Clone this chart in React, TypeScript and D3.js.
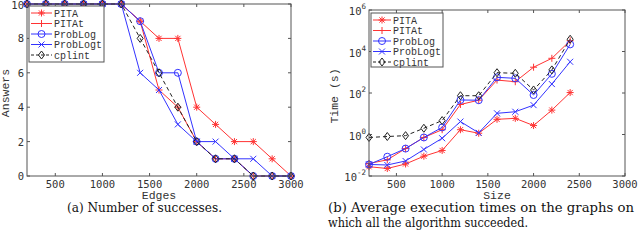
import React, { useRef, useEffect } from 'react';
import * as d3 from 'd3';

// panel (a): answers per number of edges
const edges = [200, 400, 600, 800, 1000, 1200, 1400, 1600, 1800, 2000, 2200, 2400, 2600, 2800, 3000];
const answersPITA = [10, 10, 10, 10, 10, 10, 9, 8, 8, 4, 3, 2, 2, 1, 0];
const answersPITAt = [10, 10, 10, 10, 10, 10, 9, 5, 4, 2, 1, 1, 0, 0, 0];
const answersProbLog = [10, 10, 10, 10, 10, 10, 9, 6, 6, 2, 1, 1, 0, 0, 0];
const answersProbLogt = [10, 10, 10, 10, 10, 10, 6, 5, 3, 2, 2, 1, 1, 0, 0];
const answersCplint = [10, 10, 10, 10, 10, 10, 8, 6, 4, 2, 1, 1, 0, 0, 0];

// panel (b): average time per size
const sizes = [200, 400, 600, 800, 1000, 1200, 1400, 1600, 1800, 2000, 2200, 2400];
const timePITA = [0.028, 0.023, 0.038, 0.09, 0.17, 1.7, 1.15, 5.4, 6, 2.7, 15, 105];
const timePITAt = [0.04, 0.06, 0.21, 0.72, 1.7, 28, 45, 420, 350, 1750, 4700, 33000];
const timeProbLog = [0.036, 0.085, 0.21, 0.72, 2.2, 46, 45, 570, 510, 80, 840, 22000];
const timeProbLogt = [0.036, 0.034, 0.053, 0.19, 0.66, 4.2, 1.2, 10.5, 12.5, 26, 270, 3200];
const timeCplint = [0.72, 0.8, 0.88, 2.0, 4.7, 74, 74, 950, 890, 140, 1300, 39000];

const seriesNames = ['PITA', 'PITAt', 'ProbLog', 'ProbLogt', 'cplint'];
const xTicks = [500, 1000, 1500, 2000, 2500, 3000];
const answerTicks = [0, 2, 4, 6, 8, 10];
const timeTicks = [1e-2, 1, 1e2, 1e4, 1e6];

const styles = [
  { color: '#ff3333', marker: '*', dash: null },
  { color: '#ff3333', marker: '+', dash: null },
  { color: '#3333ff', marker: 'o', dash: null },
  { color: '#3333ff', marker: 'x', dash: null },
  { color: '#222222', marker: 'd', dash: '4,3' },
];

const AXIS = '#555';
const TEXT = '#333';
const MONO = '"DejaVu Sans Mono", monospace';
const COURIER = '"Liberation Mono", monospace';

function marker(g, type, x, y, color) {
  const s = 3.5;
  const line = (x1, y1, x2, y2) =>
    g.append('line').attr('x1', x1).attr('y1', y1).attr('x2', x2).attr('y2', y2)
      .attr('stroke', color).attr('stroke-width', 1);
  if (type === '*' || type === '+') {
    line(x - s, y, x + s, y);
    line(x, y - s, x, y + s);
  }
  if (type === '*' || type === 'x') {
    const d = type === '*' ? 2.6 : 3;
    line(x - d, y - d, x + d, y + d);
    line(x - d, y + d, x + d, y - d);
  }
  if (type === 'o') {
    g.append('circle').attr('cx', x).attr('cy', y).attr('r', 3.5)
      .attr('fill', 'none').attr('stroke', color).attr('stroke-width', 1);
  }
  if (type === 'd') {
    g.append('path')
      .attr('d', `M${x},${y - 4}L${x + 3},${y}L${x},${y + 4}L${x - 3},${y}Z`)
      .attr('fill', 'none').attr('stroke', color).attr('stroke-width', 1);
  }
}

function panel(svg, o) {
  const g = svg.append('g');
  const [x0, x1] = o.x.range();
  const [y0, y1] = o.y.range();

  // series
  o.data.forEach((vals, i) => {
    const st = styles[i];
    const pts = vals.map((v, j) => [o.x(o.xs[j]), o.y(v)]);
    g.append('path')
      .attr('d', d3.line()(pts))
      .attr('fill', 'none')
      .attr('stroke', st.color)
      .attr('stroke-width', 1)
      .attr('stroke-dasharray', st.dash);
    pts.forEach((p) => marker(g, st.marker, p[0], p[1], st.color));
  });

  // box
  g.append('rect')
    .attr('x', x0).attr('y', y1).attr('width', x1 - x0).attr('height', y0 - y1)
    .attr('fill', 'none').attr('stroke', AXIS).attr('stroke-width', 1);

  // x ticks, inward on bottom and top
  o.xTicks.forEach((t) => {
    const x = o.x(t);
    g.append('line').attr('x1', x).attr('x2', x).attr('y1', y0).attr('y2', y0 - 3).attr('stroke', AXIS);
    g.append('line').attr('x1', x).attr('x2', x).attr('y1', y1).attr('y2', y1 + 3).attr('stroke', AXIS);
    g.append('text').attr('x', x).attr('y', y0 + 12)
      .attr('text-anchor', 'middle').attr('font-family', MONO).attr('font-size', 10.5)
      .attr('fill', TEXT).text(t);
  });

  // y ticks
  o.yTicks.forEach((t) => {
    const y = o.y(t);
    g.append('line').attr('x1', x0).attr('x2', x0 + 3).attr('y1', y).attr('y2', y).attr('stroke', AXIS);
    g.append('line').attr('x1', x1).attr('x2', x1 - 3).attr('y1', y).attr('y2', y).attr('stroke', AXIS);
    const txt = g.append('text').attr('x', x0 - 3).attr('y', Math.max(y + 4, 8.5))
      .attr('text-anchor', 'end').attr('font-family', MONO).attr('font-size', 10.5).attr('fill', TEXT);
    if (o.log) {
      txt.attr('y', y + 5);
      txt.append('tspan').text('10');
      txt.append('tspan').attr('dy', -6).attr('font-size', 7.5).text(Math.round(Math.log10(t)));
    } else {
      txt.text(t);
    }
  });

  // axis labels
  g.append('text').attr('x', (x0 + x1) / 2).attr('y', 199)
    .attr('text-anchor', 'middle').attr('font-family', COURIER).attr('font-size', 11.5)
    .attr('fill', TEXT).text(o.xLabel);
  g.append('text')
    .attr('transform', `translate(${o.yLabelX},${(y0 + y1) / 2 + 3}) rotate(-90)`)
    .attr('text-anchor', 'middle').attr('font-family', COURIER).attr('font-size', 11.5)
    .attr('fill', TEXT).text(o.yLabel);

  // legend
  const L = o.legend;
  g.append('rect').attr('x', L.x).attr('y', L.y).attr('width', L.w).attr('height', L.h)
    .attr('fill', 'white').attr('stroke', AXIS).attr('stroke-width', 1);
  seriesNames.forEach((name, i) => {
    const st = styles[i];
    const yy = L.y + 7 + i * 10.5;
    g.append('line').attr('x1', L.x + 2).attr('x2', L.x + 2 + L.line).attr('y1', yy).attr('y2', yy)
      .attr('stroke', st.color).attr('stroke-dasharray', st.dash ? '3,2' : null);
    marker(g, st.marker, L.x + 2 + L.line / 2, yy, st.color);
    g.append('text').attr('x', L.x + L.line + 4).attr('y', yy + 3.5)
      .attr('font-family', COURIER).attr('font-size', 10).attr('fill', TEXT).text(name);
  });
}

const App = () => {
  const ref = useRef(null);

  useEffect(() => {
    const svg = d3.select(ref.current);
    svg.selectAll('*').remove();
    svg.append('rect').attr('width', 640).attr('height', 240).attr('fill', 'white');

    panel(svg, {
      x: d3.scaleLinear().domain([200, 3000]).range([27, 291]),
      y: d3.scaleLinear().domain([0, 10]).range([176, 4]),
      xs: edges,
      data: [answersPITA, answersPITAt, answersProbLog, answersProbLogt, answersCplint],
      xTicks,
      yTicks: answerTicks,
      log: false,
      xLabel: 'Edges',
      yLabel: 'Answers',
      yLabelX: 9,
      legend: { x: 29, y: 6, w: 75, h: 56, line: 21 },
    });

    panel(svg, {
      x: d3.scaleLinear().domain([200, 3000]).range([369, 625]),
      y: d3.scaleLog().domain([1e-2, 1e6]).range([176, 10]),
      xs: sizes,
      data: [timePITA, timePITAt, timeProbLog, timeProbLogt, timeCplint],
      xTicks,
      yTicks: timeTicks,
      log: true,
      xLabel: 'Size',
      yLabel: 'Time (s)',
      yLabelX: 338,
      legend: { x: 371, y: 13, w: 72, h: 54, line: 18 },
    });

    const cap = (x, y, w, s) =>
      svg.append('text').attr('x', x).attr('y', y)
        .attr('font-family', '"DejaVu Serif", serif').attr('font-size', 12)
        .attr('textLength', w).attr('lengthAdjust', 'spacingAndGlyphs')
        .attr('fill', '#111').text(s);
    cap(67, 212, 155, '(a) Number of successes.');
    cap(328, 212, 306, '(b) Average execution times on the graphs on');
    cap(328, 227, 200, 'which all the algorithm succeeded.');
  }, []);

  return (
    <svg ref={ref} width={640} height={240}
      style={{ position: 'absolute', left: 0, top: 0 }} />
  );
};

export default App;
